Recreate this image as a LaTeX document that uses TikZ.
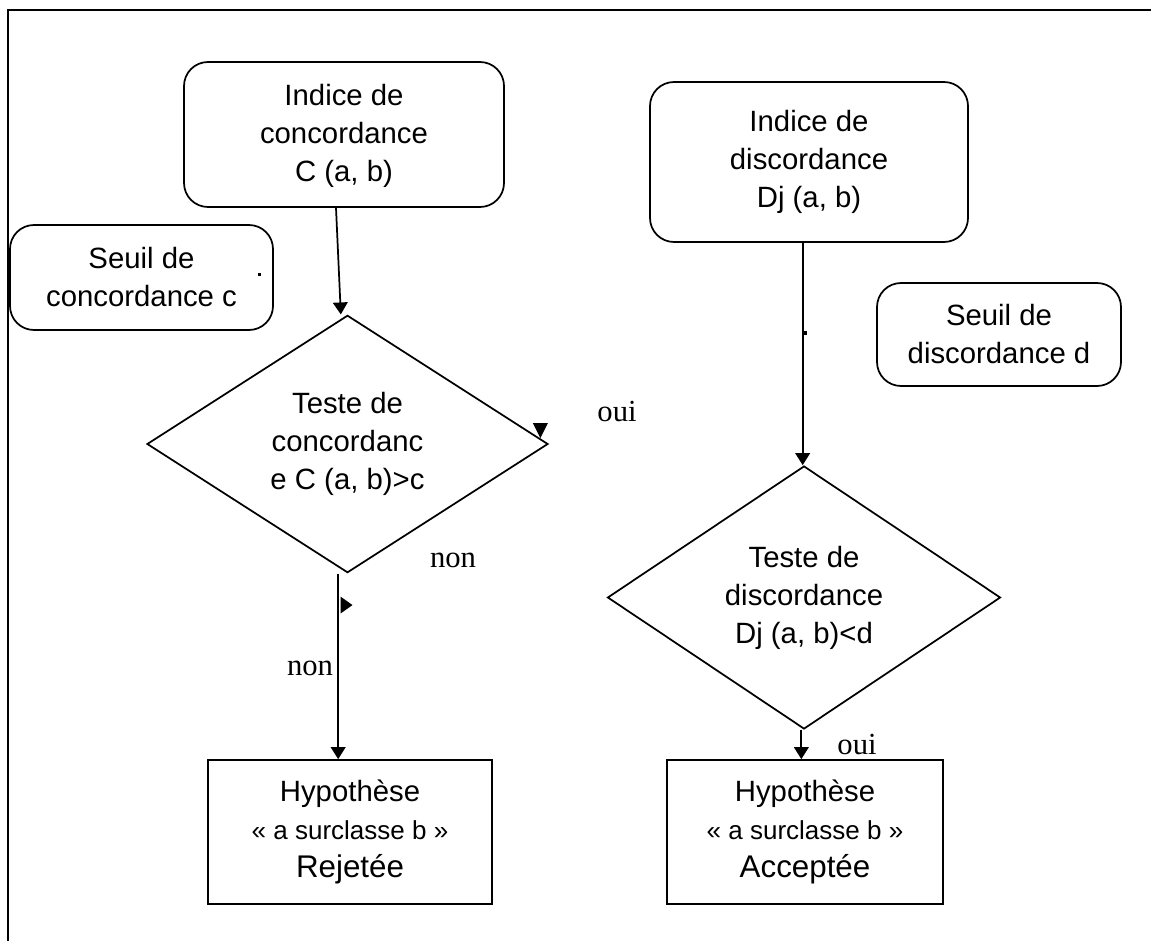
\documentclass[tikz,border=0pt]{standalone}
\usepackage{fontspec}
\setmainfont{Liberation Sans}
\newfontfamily\tnr{Liberation Serif}
\usetikzlibrary{shapes.geometric,arrows.meta}
\begin{document}
\begin{tikzpicture}[x=0.75pt,y=-0.75pt,
  rbox/.style={draw,line width=1.3pt,rounded corners=18pt,align=center,inner sep=0pt,
    font=\fontsize{22}{28.5}\selectfont},
  sbox/.style={draw,line width=1.3pt,align=center,inner sep=0pt,
    font=\fontsize{22}{28.5}\selectfont},
  dia/.style={draw,diamond,line width=1.3pt,align=center,inner sep=0pt,
    font=\fontsize{22}{28.5}\selectfont},
  lbl/.style={font=\tnr\fontsize{23}{26}\selectfont,inner sep=0pt},
  arr/.style={line width=1.3pt,-{Triangle[length=9pt,width=11pt]}},
  ln/.style={line width=1.3pt},
  blackmark/.style={fill=black}]
\useasboundingbox (0,0) rectangle (1151,941);
\draw[ln] (8,941) -- (8,10) -- (1151,10);

\node[rbox,minimum width=320*0.75pt,minimum height=145*0.75pt,text depth=0.5ex] (ic) at (344,134.5)
  {Indice de\\concordance\\C (a, b)};
\node[rbox,minimum width=263*0.75pt,minimum height=105*0.75pt] (sc) at (141.5,277.5)
  {Seuil de\\concordance c};
\node[rbox,minimum width=318*0.75pt,minimum height=160*0.75pt] (id) at (809,162)
  {Indice de\\discordance\\Dj (a, b)};
\node[rbox,minimum width=244*0.75pt,minimum height=103*0.75pt] (sd) at (999,334.5)
  {Seuil de\\discordance d};

\node[dia,minimum width=401*0.75pt,minimum height=252*0.75pt] (tc) at (347.5,444)
  {Teste de\\concordanc\\e C (a, b)>c};
\node[dia,minimum width=393*0.75pt,minimum height=263*0.75pt] (td) at (804,597.5)
  {Teste de\\discordance\\Dj (a, b)<d};

\node[sbox,minimum width=284*0.75pt,minimum height=144*0.75pt] (rj) at (350,832)
  {Hypothèse\\{\fontsize{19.5}{28.5}\selectfont « a surclasse b »}\\{\fontsize{23.5}{28.5}\selectfont Rejetée}};
\node[sbox,minimum width=276*0.75pt,minimum height=144*0.75pt] (ac) at (805,832)
  {Hypothèse\\{\fontsize{19.5}{28.5}\selectfont « a surclasse b »}\\{\fontsize{23.5}{28.5}\selectfont Acceptée}};

\draw[arr] ([xshift=-6pt]ic.south) -- ([xshift=-5pt]tc.north);
\draw[arr] ([xshift=-7pt]tc.south) -- ([xshift=-7pt]tc.south |- rj.north);
\draw[arr] ([xshift=-1pt]td.north |- id.south) -- ([xshift=-1pt]td.north);
\draw[arr] ([xshift=-2pt]td.south) -- ([xshift=-2pt]td.south |- ac.north);

\fill[blackmark] ([shift={(-16,-21)}]tc.east) -- ++(15,0) -- ++(-7.5,15) -- cycle;
\fill[blackmark] ([shift={(-7,23)}]tc.south) -- ++(0,17) -- ++(12,-8.5) -- cycle;
\fill[blackmark] (803,331) rectangle (807,335);
\fill[blackmark] (257.5,272.5) rectangle (261,276);

\node[lbl] (o1) at (617,411) {oui};
\node[lbl] (n1) at (453,560) {non};
\node[lbl] (n2) at (310,668) {non};
\node[lbl] (o2) at (857,744) {oui};
\end{tikzpicture}
\end{document}
